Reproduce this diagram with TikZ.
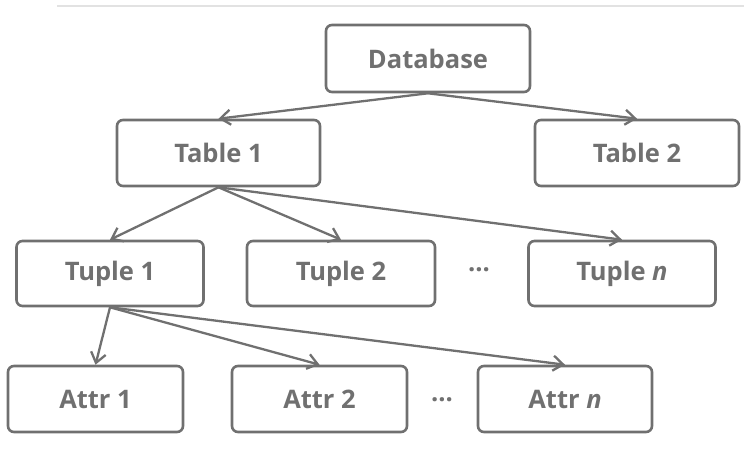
\documentclass[tikz,border=0pt]{standalone}
\usepackage{fontspec}
\setmainfont{Open Sans}
\usetikzlibrary{arrows.meta}
\definecolor{boxgray}{HTML}{707070}
\definecolor{rulegray}{HTML}{E2E2E2}
\tikzset{
	every node/.style={ % text look of every node
			text=boxgray,
			font=\fontsize{25.5}{30}\selectfont\bfseries
		},
	entity/.style={ % the rounded boxes
			draw=boxgray,
			line width=2.6pt,
			rounded corners=6pt,
			minimum height=66pt,
			inner sep=0pt
		},
	link/.style={ % arrows from parent to child
			draw=boxgray,
			line width=2.3pt,
			-{Straight Barb[length=10pt,width=15pt]}
		}
}

\begin{document}
\begin{tikzpicture}[x=1pt, y=-1pt]
	\useasboundingbox (0,0) rectangle (744,459);
	\draw[rulegray, line width=1.5pt] (57,6) -- (744,6);

	\node[entity, minimum width=204pt, minimum height=67pt] (db) at (428,58.5) {Database};

	\node[entity, minimum width=203pt] (tab1) at (218.5,153) {Table 1};
	\node[entity, minimum width=204pt] (tab2) at (637,153) {Table 2};

	\node[entity, minimum width=187pt, minimum height=65pt] (tup1) at (110,273.5) {Tuple 1};
	\node[entity, minimum width=188pt, minimum height=65pt] (tup2) at (341,273.5) {Tuple 2};
	\node (tupdots) at (479,270) {...};
	\node[entity, minimum width=187pt, minimum height=65pt] (tupn) at (622,273.5) {Tuple \textit{n}};

	\node[entity, minimum width=175pt] (att1) at (95.5,399) {Attr 1};
	\node[entity, minimum width=175pt] (att2) at (319.5,399) {Attr 2};
	\node (attdots) at (442,400) {...};
	\node[entity, minimum width=174pt] (attn) at (565,399) {Attr \textit{n}};

	\draw[link] (db.south) -- (tab1.north);
	\draw[link] (db.south) -- (tab2.north);

	\draw[link] (tab1.south) -- (tup1.north);
	\draw[link] (tab1.south) -- (tup2.north);
	\draw[link] (tab1.south) -- (tupn.north);

	\draw[link] (tup1.south) -- (att1.north);
	\draw[link] (tup1.south) -- (att2.north);
	\draw[link] (tup1.south) -- (attn.north);
\end{tikzpicture}
\end{document}
